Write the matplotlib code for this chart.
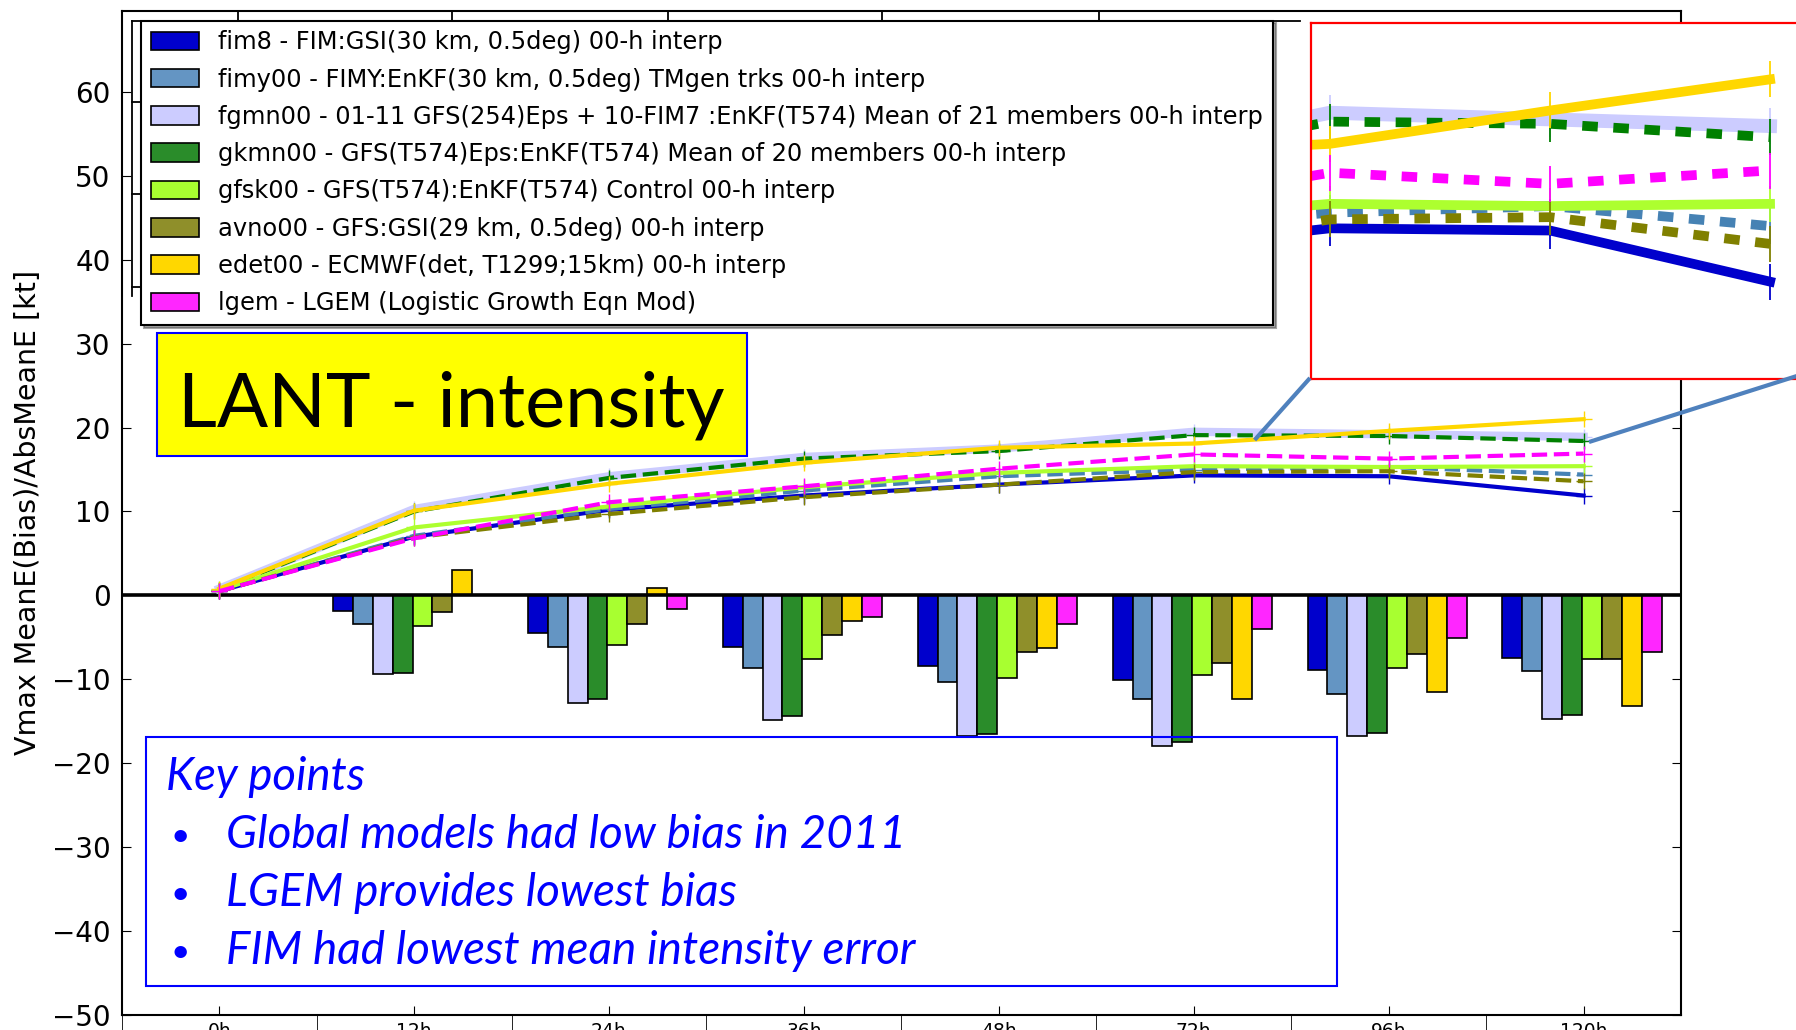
import numpy as np
import matplotlib.pyplot as plt
from matplotlib.patches import Rectangle
from matplotlib.lines import Line2D

# forecast lead times
hours = ['0h', '12h', '24h', '36h', '48h', '72h', '96h', '120h']

labels = [
    'fim8 - FIM:GSI(30 km, 0.5deg) 00-h interp',
    'fimy00 - FIMY:EnKF(30 km, 0.5deg) TMgen trks 00-h interp',
    'fgmn00 - 01-11 GFS(254)Eps + 10-FIM7 :EnKF(T574) Mean of 21 members 00-h interp',
    'gkmn00 - GFS(T574)Eps:EnKF(T574) Mean of 20 members 00-h interp',
    'gfsk00 - GFS(T574):EnKF(T574) Control 00-h interp',
    'avno00 - GFS:GSI(29 km, 0.5deg) 00-h interp',
    'edet00 - ECMWF(det, T1299;15km) 00-h interp',
    'lgem - LGEM (Logistic Growth Eqn Mod)',
]

# mean error (bias), drawn as bars
bias_fim8 = [0.0, -1.8, -4.5, -6.15, -8.45, -10.1, -8.85, -7.4]
bias_fimy00 = [0.0, -3.45, -6.15, -8.65, -10.3, -12.4, -11.75, -9.05]
bias_fgmn00 = [0.0, -9.4, -12.8, -14.9, -16.8, -18.0, -16.75, -14.7]
bias_gkmn00 = [0.0, -9.25, -12.4, -14.4, -16.5, -17.5, -16.35, -14.2]
bias_gfsk00 = [0.0, -3.65, -5.95, -7.55, -9.85, -9.45, -8.6, -7.55]
bias_avno00 = [0.0, -2.0, -3.45, -4.7, -6.8, -8.0, -7.0, -7.55]
bias_edet00 = [0.0, 3.0, 0.9, -3.0, -6.3, -12.4, -11.55, -13.2]
bias_lgem = [0.0, 0.0, -1.6, -2.6, -3.4, -4.05, -5.1, -6.75]

# absolute mean error, drawn as lines
abs_fim8 = [0.5, 7.0, 10.2, 11.9, 13.2, 14.3, 14.2, 11.9]
abs_fimy00 = [0.5, 7.1, 10.3, 12.5, 14.2, 15.0, 15.3, 14.4]
abs_fgmn00 = [0.8, 10.3, 14.2, 16.5, 17.5, 19.5, 19.2, 18.9]
abs_gkmn00 = [0.7, 10.0, 14.0, 16.3, 17.2, 19.1, 19.0, 18.4]
abs_gfsk00 = [0.6, 8.1, 10.6, 12.9, 14.6, 15.4, 15.3, 15.4]
abs_avno00 = [0.5, 6.9, 9.7, 11.7, 13.2, 14.7, 14.8, 13.6]
abs_edet00 = [0.8, 10.1, 13.3, 15.8, 17.6, 18.1, 19.6, 21.0]
abs_lgem = [0.5, 6.8, 11.1, 13.0, 15.1, 16.8, 16.3, 16.9]

bias = [bias_fim8, bias_fimy00, bias_fgmn00, bias_gkmn00,
        bias_gfsk00, bias_avno00, bias_edet00, bias_lgem]
abserr = [abs_fim8, abs_fimy00, abs_fgmn00, abs_gkmn00,
          abs_gfsk00, abs_avno00, abs_edet00, abs_lgem]

bar_colors = ['#0000CC', '#6495C3', '#CCCCFF', '#2A8C2A',
              '#A8FF30', '#8F8F2A', '#FFD700', '#FF26FF']
line_colors = ['#0000CC', '#4682B4', '#CCCCFF', '#008000',
               '#ADFF2F', '#808000', '#FFD700', '#FF00FF']
styles = ['-', '--', '-', '--', '-', '--', '-', '--']

W, H = 1796, 1030


def fx(px):
    return px / W


def fy(py):
    return 1 - py / H


fig = plt.figure(figsize=(W / 100, H / 100), dpi=100)
ax = fig.add_axes([fx(121.7), fy(1015), (1681 - 121.7) / W, (1015 - 10.5) / H])

n = len(hours)
idx = np.arange(n)
bar_w = 0.102
handles = []
for j in range(len(labels)):
    b = ax.bar(idx + 0.084 + j * bar_w, bias[j], bar_w, align='edge',
               color=bar_colors[j], edgecolor='black', linewidth=1.2,
               zorder=2, label=labels[j])
    handles.append(b)

ax.axhline(0, color='black', lw=2.6, zorder=2.5)

for j in range(len(labels)):
    lw = 6 if j == 2 else 3
    ax.plot(idx + 0.5, abserr[j], styles[j], color=line_colors[j], lw=lw,
            marker='+', ms=12, mew=1, zorder=3)

ax.set_xlim(0, n)
ax.set_ylim(-50, 69.7)
ax.set_yticks(np.arange(-50, 61, 10))
ax.set_xticks(idx + 0.5, hours)
ax.set_xticks(idx, minor=True)
ax.tick_params(axis='x', which='major', direction='in', length=6.5,
               labelsize=13.5, pad=4.8, top=False)
ax.tick_params(axis='x', which='minor', direction='out', length=14,
               top=False)
ax.tick_params(axis='y', direction='in', length=6.5, labelsize=20,
               right=True, pad=8)
for s in ax.spines.values():
    s.set_linewidth(1.5)
ax.set_ylabel('Vmax MeanE(Bias)/AbsMeanE [kt]', fontsize=20.5)
ax.yaxis.set_label_coords(-0.0514, 0.5)

leg = ax.legend(handles=handles, loc='upper left',
                bbox_to_anchor=(fx(141), fy(20.6)), bbox_transform=fig.transFigure,
                borderaxespad=0, fontsize=17.4, labelspacing=0.55,
                handlelength=2.0, handleheight=0.8, handletextpad=0.8,
                borderpad=0.4, frameon=True, fancybox=False, shadow=True,
                framealpha=1, edgecolor='black')
leg.get_frame().set_linewidth(1.5)
leg.set_zorder(4)

# frame of the plot lying underneath
frame_kw = dict(color='black', lw=1.3, transform=fig.transFigure, zorder=3)
fig.add_artist(Line2D([fx(132), fx(1300)], [fy(21), fy(21)], **frame_kw))
fig.add_artist(Line2D([fx(132), fx(132)], [fy(21), fy(296)], **frame_kw))
for tx in [237.7, 451.7, 667.7, 882.3, 1099]:
    fig.add_artist(Line2D([fx(tx), fx(tx)], [fy(10.5), fy(21)], **frame_kw))
for ty in [102, 194, 287]:
    fig.add_artist(Line2D([fx(132), fx(141)], [fy(ty), fy(ty)], **frame_kw))

# title box
fig.add_artist(Rectangle((fx(157), fy(456)), (747 - 157) / W, (456 - 333) / H,
                         transform=fig.transFigure, facecolor='#FFFF00',
                         edgecolor='#0000FF', lw=1.5, zorder=5))
fig.text(fx(177.5), fy(426), 'LANT - intensity', fontsize=54.5, family='Lato',
         color='black', va='baseline', ha='left', zorder=6)

# key points box
fig.add_artist(Rectangle((fx(145.5), fy(986)), (1336.7 - 145.5) / W, (986 - 736.5) / H,
                         transform=fig.transFigure, facecolor='none',
                         edgecolor='#0000FF', lw=1.5, zorder=5))
fig.text(fx(166), fy(790), 'Key points', fontsize=32.8, family='Lato',
         style='italic', color='#0000FF', va='baseline', zorder=6)
points = ['Global models had low bias in 2011',
          'LGEM provides lowest bias',
          'FIM had lowest mean intensity error']
for k, p in enumerate(points):
    yb = 848 + k * 57.8
    fig.text(fx(170), fy(yb - 2), '\u2022', fontsize=24, family='Lato',
             color='#0000FF', va='baseline', zorder=6)
    fig.text(fx(225.6), fy(yb), p, fontsize=33, family='Lato',
             style='italic', color='#0000FF', va='baseline', zorder=6)

# enlarged view of the last three lead times
ins = fig.add_axes([fx(1310.7), fy(379), (1840 - 1310.7) / W, (379 - 22.7) / H],
                   zorder=7)
for j in range(len(labels)):
    lw = 10 if j == 2 else 7
    ln, = ins.plot(idx + 0.5, abserr[j], styles[j], color=line_colors[j], lw=lw,
                   marker='|', ms=26, mew=1.3)
    if styles[j] == '--':
        ln.set_dashes((1.6, 1.6))
ins.set_xlim(5.412, 5.412 + (1840 - 1310.7) / 220)
ins.set_ylim(7.52, 23.55)
ins.set_xticks([])
ins.set_yticks([])
for s in ins.spines.values():
    s.set_color('#FF0000')
    s.set_linewidth(1.6)

conn_kw = dict(color='#4F81BD', lw=3, transform=fig.transFigure, zorder=8,
               solid_capstyle='butt')
fig.add_artist(Line2D([fx(1310), fx(1254.6)], [fy(378), fy(440)], **conn_kw))
fig.add_artist(Line2D([fx(1800), fx(1589)], [fy(375), fy(442)], **conn_kw))

fig.savefig('out.png', dpi=100)
